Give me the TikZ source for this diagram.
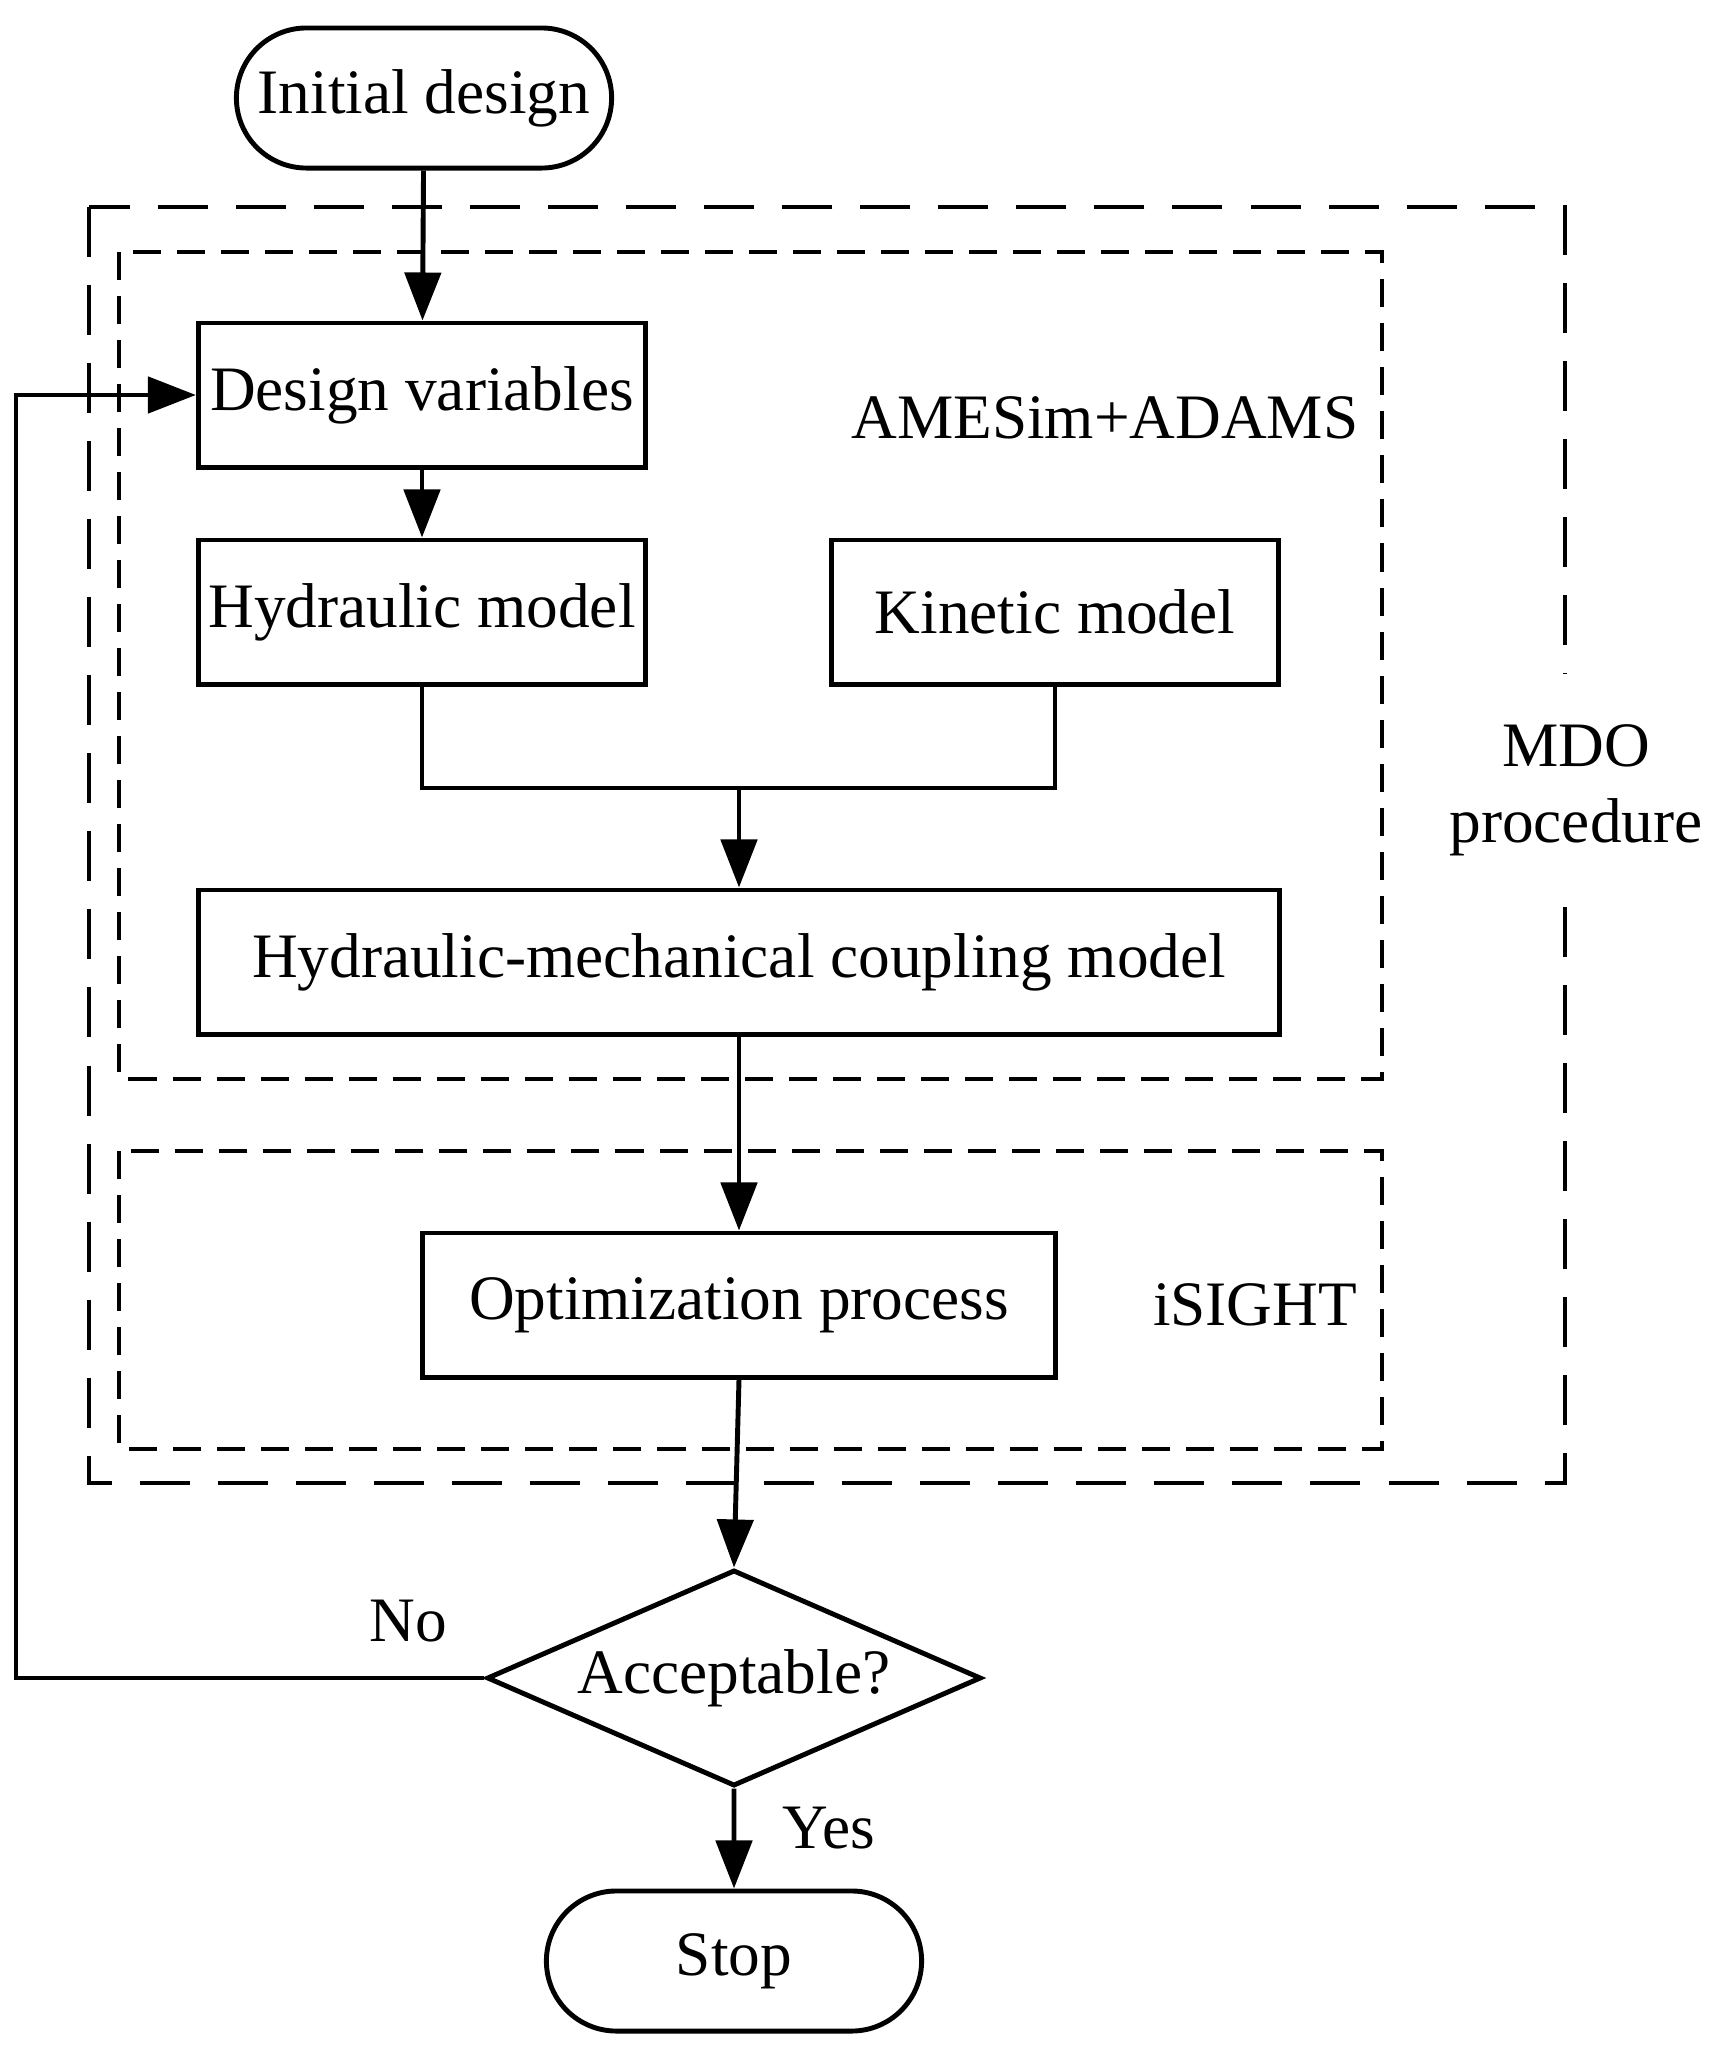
\documentclass[tikz,border=0pt]{standalone}
\usepackage{fontspec}
\setmainfont{Liberation Serif}
\usetikzlibrary{shapes.geometric,shapes.misc,arrows.meta}
\tikzset{
	box/.style={draw,line width=1.4pt,minimum width=4.47cm,minimum height=1.44cm,inner sep=0pt},
	term/.style={draw,rounded rectangle,line width=1.4pt,minimum width=3.75cm,minimum height=1.4cm,inner sep=0pt},
	decide/.style={draw,diamond,aspect=2.29,line width=1.4pt,minimum width=4.94cm,minimum height=2.16cm,inner sep=0pt},
	flow/.style={line width=1.4pt,-{Triangle[length=4.8mm,width=3.6mm]}},
	outerdash/.style={line width=1.4pt,dash pattern=on 5mm off 2.8mm},
	innerdash/.style={line width=1.4pt,dash pattern=on 2.8mm off 1.6mm},
}
\begin{document}
\begin{tikzpicture}[x=0.01cm,y=-0.01cm,font=\fontsize{18}{21.6}\selectfont]
		\useasboundingbox (0,0) rectangle (1713,2051);
		% frames
		\draw[outerdash] (89,207) rectangle (1565,1483);
		\draw[innerdash] (119,252) rectangle (1382,1079);
		\draw[innerdash] (119,1151) rectangle (1382,1449);
		% blocks
		\node[term] (init) at (424,98) {Initial design};
		\node[box] (dv) at (422,395) {Design variables};
		\node[box] (hm) at (422,612) {Hydraulic model};
		\node[box] (km) at (1055,612) {Kinetic model};
		\node[box,minimum width=10.8cm] (cm) at (739,962) {Hydraulic-mechanical coupling model};
		\node[box,minimum width=6.33cm] (op) at (739,1305) {Optimization process};
		\node[decide] (acc) at (734,1678) {Acceptable?};
		\node[term] (stop) at (734,1961) {Stop};
		% labels
		\node (tools) at (1105,418) {AMESim+ADAMS};
		\node (isight) at (1255,1305) {iSIGHT};
		\node[align=center,fill=white,inner xsep=1pt,inner ysep=0.5cm] (mdo) at (1576,790) {MDO\\procedure};
		\node (no) at (408,1621) {No};
		\node (yes) at (829,1828) {Yes};
		% connectors
		\coordinate (join) at (739,788);
		\coordinate (back) at (16,1678);
		\draw[flow] (init) -- (dv);
		\draw[flow] (dv) -- (hm);
		\draw[line width=1.4pt] (hm.south) |- (join) -| (km.south);
		\draw[flow] (join) -- (cm);
		\draw[flow] (cm) -- (op);
		\draw[flow] (op.south) -- (acc.north);
		\draw[flow] (acc) -- (stop);
		\draw[flow] (acc.west) -- (back) |- (dv.west);
	\end{tikzpicture}
\end{document}
